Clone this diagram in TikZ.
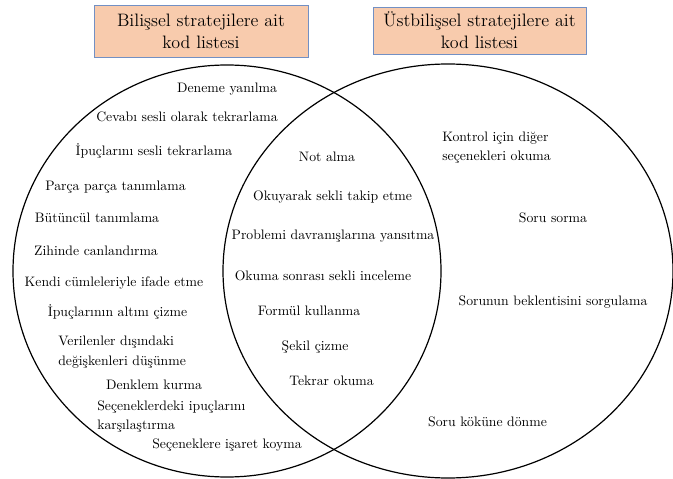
\documentclass[tikz,border=0pt]{standalone}
\usepackage{fontspec}
\setmainfont{Latin Modern Roman}
\definecolor{boxfill}{HTML}{F8CBAD}
\definecolor{boxline}{HTML}{7290C4}
\tikzset{
    baslik/.style={rectangle, draw=boxline, fill=boxfill, line width=0.6pt, align=center, font=\fontsize{13.5}{16.5}\selectfont},
    madde/.style={inner sep=0pt, font=\fontsize{10.3}{14.5}\selectfont},
}
\begin{document}
\begin{tikzpicture}[x=0.75pt, y=0.75pt]
    \useasboundingbox (0,0) rectangle (673,478);

    \draw[line width=0.9pt] (227,207) ellipse [x radius=214, y radius=206];
    \draw[line width=0.9pt] (448,207) ellipse [x radius=225, y radius=207];

    \draw node[baslik, minimum width=214*0.75pt, minimum height=52*0.75pt] (bilissel) at (201,447) {Bilişsel stratejilere ait\\kod listesi};
    \draw node[baslik, minimum width=213*0.75pt, minimum height=47*0.75pt] (ustbilissel) at (479.5,447.5) {Üstbilişsel stratejilere ait\\kod listesi};

    % sol
    \draw node[madde] (deneme) at (227,389) {Deneme yanılma};
    \draw node[madde] (cevabi) at (187,361) {Cevabı sesli olarak tekrarlama};
    \draw node[madde] (ipucsesli) at (154,327) {İpuçlarını sesli tekrarlama};
    \draw node[madde] (parca) at (115.5,291) {Parça parça tanımlama};
    \draw node[madde] (butuncul) at (97,260) {Bütüncül tanımlama};
    \draw node[madde] (zihinde) at (96,227) {Zihinde canlandırma};
    \draw node[madde] (kendi) at (114,195) {Kendi cümleleriyle ifade etme};
    \draw node[madde] (altini) at (117.5,166) {İpuçlarının altını çizme};
    \draw node[madde, anchor=west, align=left] (verilenler) at (58,126) {Verilenler dışındaki\\değişkenleri düşünme};
    \draw node[madde] (denklem) at (154,93) {Denklem kurma};
    \draw node[madde, anchor=west, align=left] (secenekipuc) at (97,61.5) {Seçeneklerdeki ipuçlarını\\karşılaştırma};
    \draw node[madde] (isaret) at (227,33) {Seçeneklere işaret koyma};

    % orta
    \draw node[madde] (not) at (327,321) {Not alma};
    \draw node[madde] (okuyarak) at (332.5,281) {Okuyarak sekli takip etme};
    \draw node[madde] (problemi) at (333,242) {Problemi davranışlarına yansıtma};
    \draw node[madde] (okumasonrasi) at (323,202) {Okuma sonrası sekli inceleme};
    \draw node[madde] (formul) at (309,167) {Formül kullanma};
    \draw node[madde] (sekil) at (315,131) {Şekil çizme};
    \draw node[madde] (tekrar) at (331.5,97) {Tekrar okuma};

    % sag
    \draw node[madde, anchor=west, align=left] (kontrol) at (442,330.5) {Kontrol için diğer\\seçenekleri okuma};
    \draw node[madde] (sorusorma) at (553,260) {Soru sorma};
    \draw node[madde] (beklenti) at (553,176) {Sorunun beklentisini sorgulama};
    \draw node[madde] (kok) at (487.5,56) {Soru köküne dönme};
\end{tikzpicture}
\end{document}
